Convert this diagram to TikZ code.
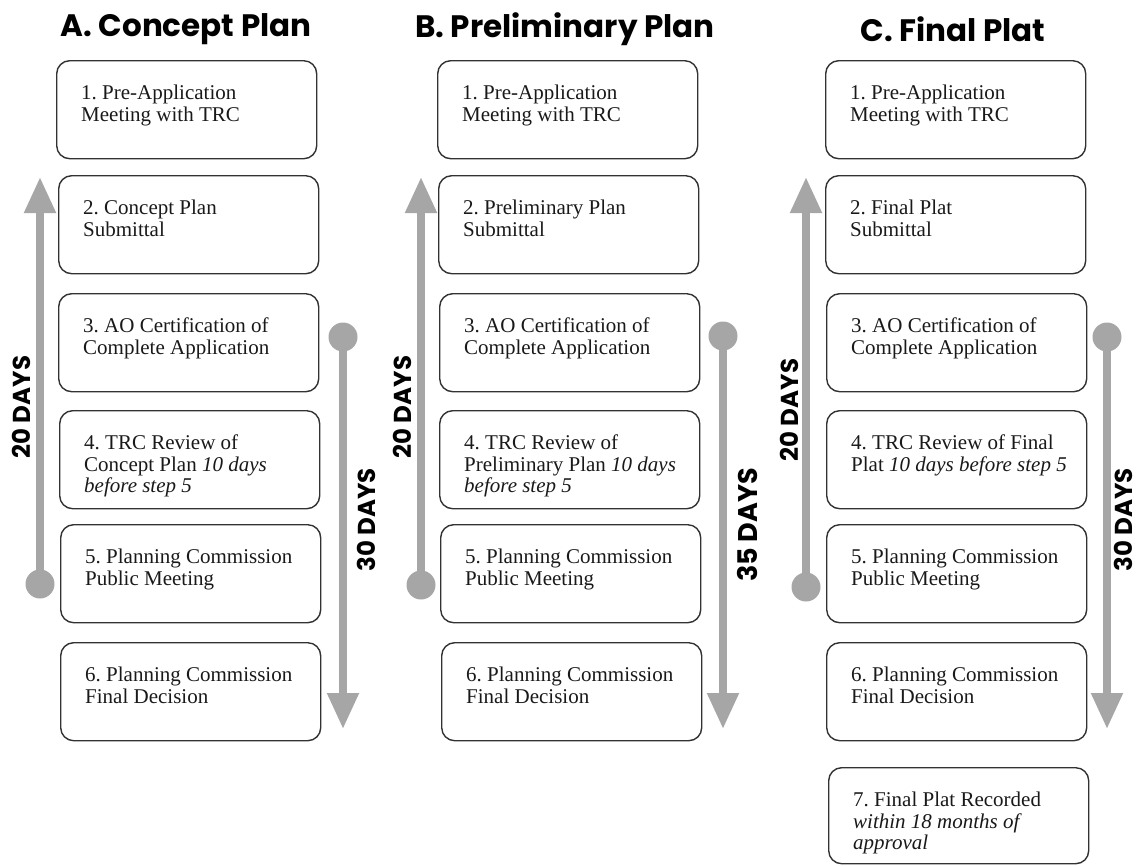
\documentclass[tikz,border=0pt]{standalone}
\usepackage{fontspec}
\setmainfont{Liberation Serif}
\newfontfamily\titlefont{Poppins}
\usetikzlibrary{arrows.meta,calc}
\definecolor{daygray}{RGB}{166,166,166}
\definecolor{boxline}{RGB}{50,50,50}
\tikzset{
  stepbox/.style={draw=boxline, line width=1.4pt, rounded corners=13pt, minimum width=260pt, minimum height=98pt, anchor=north west, inner sep=0pt},
  steptext/.style={anchor=north west, inner sep=0pt, align=left, font=\frenchspacing\fontsize{21}{21.5}\selectfont, text=black!90},
  titletext/.style={font=\titlefont\bfseries\fontsize{31}{34}\selectfont, inner sep=0pt},
  dayslabel/.style={font=\titlefont\bfseries\fontsize{24.5}{26}\selectfont, inner sep=0pt, rotate=90},
  bigdays/.style={font=\titlefont\bfseries\fontsize{27}{29}\selectfont, inner sep=0pt, rotate=90},
  daydot/.style={circle, fill=daygray, minimum size=29pt, inner sep=0pt},
  dayline/.style={draw=daygray, line width=8pt, -{Triangle[width=30pt,length=36pt]}, shorten <=-6pt},
}
\begin{document}
\begin{tikzpicture}[x=1pt,y=-1pt]
\useasboundingbox (0,0) rectangle (1138,865);
% titles
\node[titletext] (ta) at (186,29) {A. Concept Plan};
\node[titletext] (tb) at (565,29) {B. Preliminary Plan};
\node[titletext] (tc) at (953,29) {C. Final Plat};
% column A
\node[stepbox] (a1) at (56,60) {};
\node[stepbox] (a2) at (58,175) {};
\node[stepbox] (a3) at (58,293) {};
\node[stepbox] (a4) at (59,410) {};
\node[stepbox] (a5) at (60,524) {};
\node[stepbox] (a6) at (60,642) {};
\node[steptext] (a1t) at ($(a1.north west)+(25,25)$) {1. Pre-Application\\Meeting with TRC};
\node[steptext] (a2t) at ($(a2.north west)+(25,25)$) {2. Concept Plan\\Submittal};
\node[steptext] (a3t) at ($(a3.north west)+(25,25)$) {3. AO Certification of\\Complete Application};
\node[steptext] (a4t) at ($(a4.north west)+(25,25)$) {4. TRC Review of\\Concept Plan \textit{10 days}\\\textit{before step 5}};
\node[steptext] (a5t) at ($(a5.north west)+(25,25)$) {5. Planning Commission\\Public Meeting};
\node[steptext] (a6t) at ($(a6.north west)+(25,25)$) {6. Planning Commission\\Final Decision};
% column B
\node[stepbox] (b1) at (437,60) {};
\node[stepbox] (b2) at (438,175) {};
\node[stepbox] (b3) at (439,293) {};
\node[stepbox] (b4) at (439,410) {};
\node[stepbox] (b5) at (440,524) {};
\node[stepbox] (b6) at (441,642) {};
\node[steptext] (b1t) at ($(b1.north west)+(25,25)$) {1. Pre-Application\\Meeting with TRC};
\node[steptext] (b2t) at ($(b2.north west)+(25,25)$) {2. Preliminary Plan\\Submittal};
\node[steptext] (b3t) at ($(b3.north west)+(25,25)$) {3. AO Certification of\\Complete Application};
\node[steptext] (b4t) at ($(b4.north west)+(25,25)$) {4. TRC Review of\\Preliminary Plan \textit{10 days}\\\textit{before step 5}};
\node[steptext] (b5t) at ($(b5.north west)+(25,25)$) {5. Planning Commission\\Public Meeting};
\node[steptext] (b6t) at ($(b6.north west)+(25,25)$) {6. Planning Commission\\Final Decision};
% column C
\node[stepbox] (c1) at (825,60) {};
\node[stepbox] (c2) at (825,175) {};
\node[stepbox] (c3) at (826,293) {};
\node[stepbox] (c4) at (826,410) {};
\node[stepbox] (c5) at (826,524) {};
\node[stepbox] (c6) at (826,642) {};
\node[stepbox, minimum height=96pt] (c7) at (828,767) {};
\node[steptext] (c1t) at ($(c1.north west)+(25,25)$) {1. Pre-Application\\Meeting with TRC};
\node[steptext] (c2t) at ($(c2.north west)+(25,25)$) {2. Final Plat\\Submittal};
\node[steptext] (c3t) at ($(c3.north west)+(25,25)$) {3. AO Certification of\\Complete Application};
\node[steptext] (c4t) at ($(c4.north west)+(25,25)$) {4. TRC Review of Final\\Plat \textit{10 days before step 5}};
\node[steptext] (c5t) at ($(c5.north west)+(25,25)$) {5. Planning Commission\\Public Meeting};
\node[steptext] (c6t) at ($(c6.north west)+(25,25)$) {6. Planning Commission\\Final Decision};
\node[steptext] (c7t) at ($(c7.north west)+(25,25)$) {7. Final Plat Recorded\\\textit{within 18 months of}\\\textit{approval}};
% day arrows A
\node[daydot] (a20s) at (40,584) {};
\coordinate (a20e) at (40,177);
\draw[dayline] (a20s) -- (a20e);
\node[dayslabel] (a20l) at (21,407) {20 DAYS};
\node[daydot] (a30s) at (343,337) {};
\coordinate (a30e) at (343,729);
\draw[dayline] (a30s) -- (a30e);
\node[dayslabel] (a30l) at (366,520) {30 DAYS};
% day arrows B
\node[daydot] (b20s) at (421,585) {};
\coordinate (b20e) at (421,177);
\draw[dayline] (b20s) -- (b20e);
\node[dayslabel] (b20l) at (402,407) {20 DAYS};
\node[daydot] (b35s) at (723,336) {};
\coordinate (b35e) at (723,729);
\draw[dayline] (b35s) -- (b35e);
\node[bigdays] (b35l) at (748,525) {35 DAYS};
% day arrows C
\node[daydot] (c20s) at (806,587) {};
\coordinate (c20e) at (806,177);
\draw[dayline] (c20s) -- (c20e);
\node[dayslabel] (c20l) at (789,410) {20 DAYS};
\node[daydot] (c30s) at (1107,337) {};
\coordinate (c30e) at (1107,729);
\draw[dayline] (c30s) -- (c30e);
\node[dayslabel] (c30l) at (1123,520) {30 DAYS};
\end{tikzpicture}
\end{document}
